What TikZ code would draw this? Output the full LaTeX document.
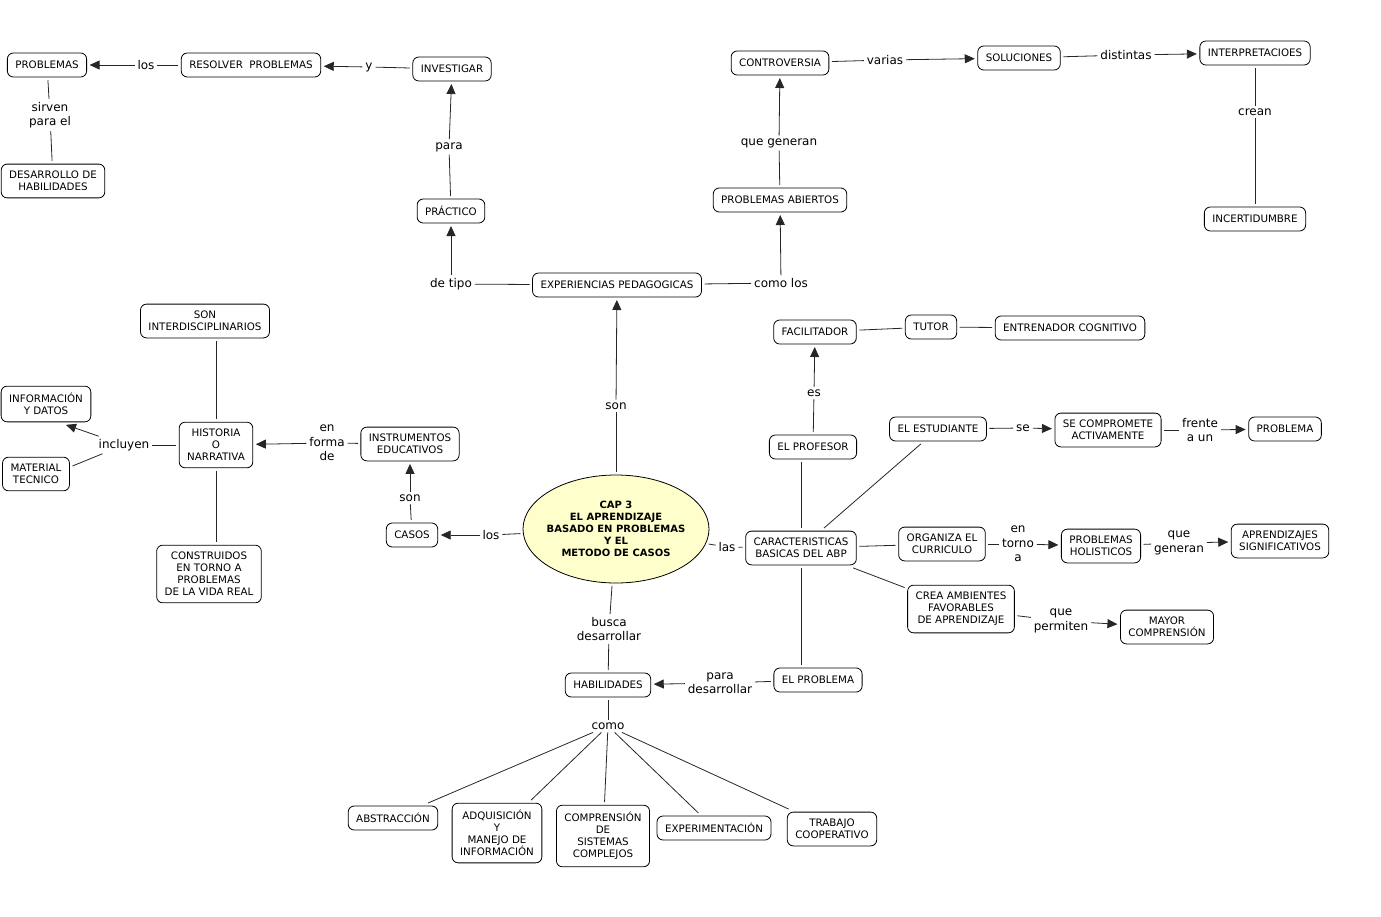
\documentclass[tikz,border=0pt]{standalone}
\usepackage{fontspec}
\setmainfont{DejaVu Sans}
\usetikzlibrary{arrows.meta,positioning,shapes.geometric}
\definecolor{capfill}{RGB}{255,255,204}

\begin{document}
\begin{tikzpicture}[
  x=1pt,y=-1pt,
  concept/.style={draw,rounded corners=6pt,line width=0.8pt,align=center,
    font=\fontsize{10.3}{12}\selectfont,inner xsep=8pt,inner ysep=7pt,
    minimum height=24pt,outer sep=3pt},
  core/.style={ellipse,draw,fill=capfill,line width=0.8pt,align=center,
    font=\bfseries\fontsize{10}{12}\selectfont,minimum width=186pt,
    minimum height=108pt,inner xsep=-8pt,inner ysep=0pt,outer sep=3pt},
  phrase/.style={align=center,font=\fontsize{12}{14.5}\selectfont,inner sep=2pt,outer sep=1pt},
  route/.style={line width=0.8pt,draw=black!85},
  routeto/.style={route,-{Triangle[length=10pt,width=9pt]}}
]
  \useasboundingbox (0,0) rectangle (1381,916);

  \node[core] (cap) at (616,529) {CAP 3\\EL APRENDIZAJE\\BASADO EN PROBLEMAS\\Y EL\\METODO DE CASOS};

  \node[concept] (problemas) at (47,65) {PROBLEMAS};
  \node[concept] (resolver) at (251,65) {RESOLVER\ \ PROBLEMAS};
  \node[concept] (investigar) at (452,69) {INVESTIGAR};
  \node[concept] (desarrollo) at (53,181) {DESARROLLO DE\\HABILIDADES};
  \node[concept] (practico) at (451,211) {PRÁCTICO};
  \node[concept] (experiencias) at (617,285) {EXPERIENCIAS PEDAGOGICAS};
  \node[concept] (abiertos) at (780,200) {PROBLEMAS ABIERTOS};
  \node[concept] (controversia) at (780,63) {CONTROVERSIA};
  \node[concept] (soluciones) at (1019,58) {SOLUCIONES};
  \node[concept] (interpretaciones) at (1255,53) {INTERPRETACIOES};
  \node[concept] (incertidumbre) at (1255,219) {INCERTIDUMBRE};

  \node[concept] (casos) at (412,535) {CASOS};
  \node[concept] (instrumentos) at (410,444) {INSTRUMENTOS\\EDUCATIVOS};
  \node[concept] (historia) at (216,445) {HISTORIA\\O\\NARRATIVA};
  \node[concept] (interdisciplinarios) at (205,321) {SON\\INTERDISCIPLINARIOS};
  \node[concept] (informacion) at (46,404) {INFORMACIÓN\\Y DATOS};
  \node[concept] (material) at (36,474) {MATERIAL\\TECNICO};
  \node[concept] (construidos) at (209,574) {CONSTRUIDOS\\EN TORNO A\\PROBLEMAS\\DE LA VIDA REAL};

  \node[concept] (caracteristicas) at (801,548) {CARACTERISTICAS\\BASICAS DEL ABP};
  \node[concept] (profesor) at (813,447) {EL PROFESOR};
  \node[concept] (facilitador) at (815,332) {FACILITADOR};
  \node[concept] (tutor) at (931,327) {TUTOR};
  \node[concept] (entrenador) at (1070,328) {ENTRENADOR COGNITIVO};
  \node[concept] (estudiante) at (938,429) {EL ESTUDIANTE};
  \node[concept] (compromete) at (1108,430) {SE COMPROMETE\\ACTIVAMENTE};
  \node[concept] (problema) at (1285,429) {PROBLEMA};
  \node[concept] (organiza) at (942,544) {ORGANIZA EL\\CURRICULO};
  \node[concept] (holisticos) at (1101,546) {PROBLEMAS\\HOLISTICOS};
  \node[concept] (significativos) at (1280,541) {APRENDIZAJES\\SIGNIFICATIVOS};
  \node[concept] (ambientes) at (961,609) {CREA AMBIENTES\\FAVORABLES\\DE APRENDIZAJE};
  \node[concept] (comprension) at (1167,627) {MAYOR\\COMPRENSIÓN};
  \node[concept] (elproblema) at (818,680) {EL PROBLEMA};

  \node[concept] (habilidades) at (608,685) {HABILIDADES};
  \node[concept] (abstraccion) at (393,818) {ABSTRACCIÓN};
  \node[concept] (adquisicion) at (497,833) {ADQUISICIÓN\\Y\\MANEJO DE\\INFORMACIÓN};
  \node[concept] (sistemas) at (603,836) {COMPRENSIÓN\\DE\\SISTEMAS\\COMPLEJOS};
  \node[concept] (experimentacion) at (714,828) {EXPERIMENTACIÓN};
  \node[concept] (cooperativo) at (832,829) {TRABAJO\\COOPERATIVO};

  \node[phrase] (los1) at (146,65) {los};
  \node[phrase] (y1) at (369,67) {y};
  \node[phrase] (sirven) at (50,115) {sirven\\para el};
  \node[phrase] (para1) at (449,147) {para};
  \node[phrase] (detipo) at (451,284) {de tipo};
  \node[phrase] (comolos) at (781,283) {como los};
  \node[phrase] (quegeneran1) at (779,143) {que generan};
  \node[phrase] (varias) at (885,60) {varias};
  \node[phrase] (distintas) at (1126,55) {distintas};
  \node[phrase] (crean) at (1255,112) {crean};
  \node[phrase] (son1) at (616,406) {son};
  \node[phrase] (los2) at (491,535) {los};
  \node[phrase] (son2) at (410,498) {son};
  \node[phrase] (enforma) at (327,443) {en\\forma\\de};
  \node[phrase] (incluyen) at (124,445) {incluyen};
  \node[phrase] (las) at (727,547) {las};
  \node[phrase] (es) at (814,393) {es};
  \node[phrase] (se) at (1023,428) {se};
  \node[phrase] (frente) at (1200,430) {frente\\a un};
  \node[phrase] (entorno) at (1018,544) {en\\torno\\a};
  \node[phrase] (quegeneran2) at (1179,543) {que\\generan};
  \node[phrase] (quepermiten) at (1061,621) {que\\permiten};
  \node[phrase] (paradesarrollar) at (720,683) {para\\desarrollar};
  \node[phrase] (busca) at (609,629) {busca\\desarrollar};
  \node[phrase] (como) at (608,726) {como};

  \draw[route] (resolver) -- (los1);
  \draw[routeto] (los1) -- (problemas);
  \draw[route] (investigar) -- (y1);
  \draw[routeto] (y1) -- (resolver);
  \draw[route] (problemas) -- (sirven);
  \draw[route] (sirven) -- (desarrollo);
  \draw[route] (practico) -- (para1);
  \draw[routeto] (para1) -- (investigar);
  \draw[route] (experiencias) -- (detipo);
  \draw[routeto] (detipo) -- (practico);
  \draw[route] (experiencias) -- (comolos);
  \draw[routeto] (comolos) -- (abiertos);
  \draw[route] (abiertos) -- (quegeneran1);
  \draw[routeto] (quegeneran1) -- (controversia);
  \draw[route] (controversia) -- (varias);
  \draw[routeto] (varias) -- (soluciones);
  \draw[route] (soluciones) -- (distintas);
  \draw[routeto] (distintas) -- (interpretaciones);
  \draw[route] (interpretaciones) -- (crean);
  \draw[route] (crean) -- (incertidumbre);

  \draw[route] (cap) -- (son1);
  \draw[routeto] (son1) -- (experiencias);
  \draw[route] (cap) -- (los2);
  \draw[routeto] (los2) -- (casos);
  \draw[route] (casos) -- (son2);
  \draw[routeto] (son2) -- (instrumentos);
  \draw[route] (instrumentos) -- (enforma);
  \draw[routeto] (enforma) -- (historia);
  \draw[route] (historia.north) -- (historia.north |- interdisciplinarios.south);
  \draw[route] (historia.south) -- (historia.south |- construidos.north);
  \draw[route] (historia) -- (incluyen);
  \draw[routeto] (incluyen) -- ([xshift=20pt]informacion.south);
  \draw[route] (incluyen) -- ([yshift=8pt]material.east);

  \draw[route] (cap) -- (las);
  \draw[route] (las) -- (caracteristicas);
  \draw[route] (caracteristicas.north) -- (caracteristicas.north |- profesor.south);
  \draw[route] (caracteristicas) -- (estudiante);
  \draw[route] (caracteristicas) -- (organiza);
  \draw[route] (caracteristicas) -- (ambientes);
  \draw[route] (caracteristicas.south) -- (caracteristicas.south |- elproblema.north);
  \draw[route] (profesor) -- (es);
  \draw[routeto] (es) -- (facilitador);
  \draw[route] (facilitador) -- (tutor);
  \draw[route] (tutor) -- (entrenador);
  \draw[route] (estudiante) -- (se);
  \draw[routeto] (se) -- (compromete);
  \draw[route] (compromete) -- (frente);
  \draw[routeto] (frente) -- (problema);
  \draw[route] (organiza) -- (entorno);
  \draw[routeto] (entorno) -- (holisticos);
  \draw[route] (holisticos) -- (quegeneran2);
  \draw[routeto] (quegeneran2) -- (significativos);
  \draw[route] (ambientes) -- (quepermiten);
  \draw[routeto] (quepermiten) -- (comprension);
  \draw[route] (elproblema) -- (paradesarrollar);
  \draw[routeto] (paradesarrollar) -- (habilidades);

  \draw[route] (cap) -- (busca);
  \draw[route] (busca) -- (habilidades);
  \draw[route] (habilidades) -- (como);
  \draw[route] (como) -- (abstraccion);
  \draw[route] (como) -- (adquisicion);
  \draw[route] (como) -- (sistemas);
  \draw[route] (como) -- (experimentacion);
  \draw[route] (como) -- (cooperativo);
\end{tikzpicture}
\end{document}
